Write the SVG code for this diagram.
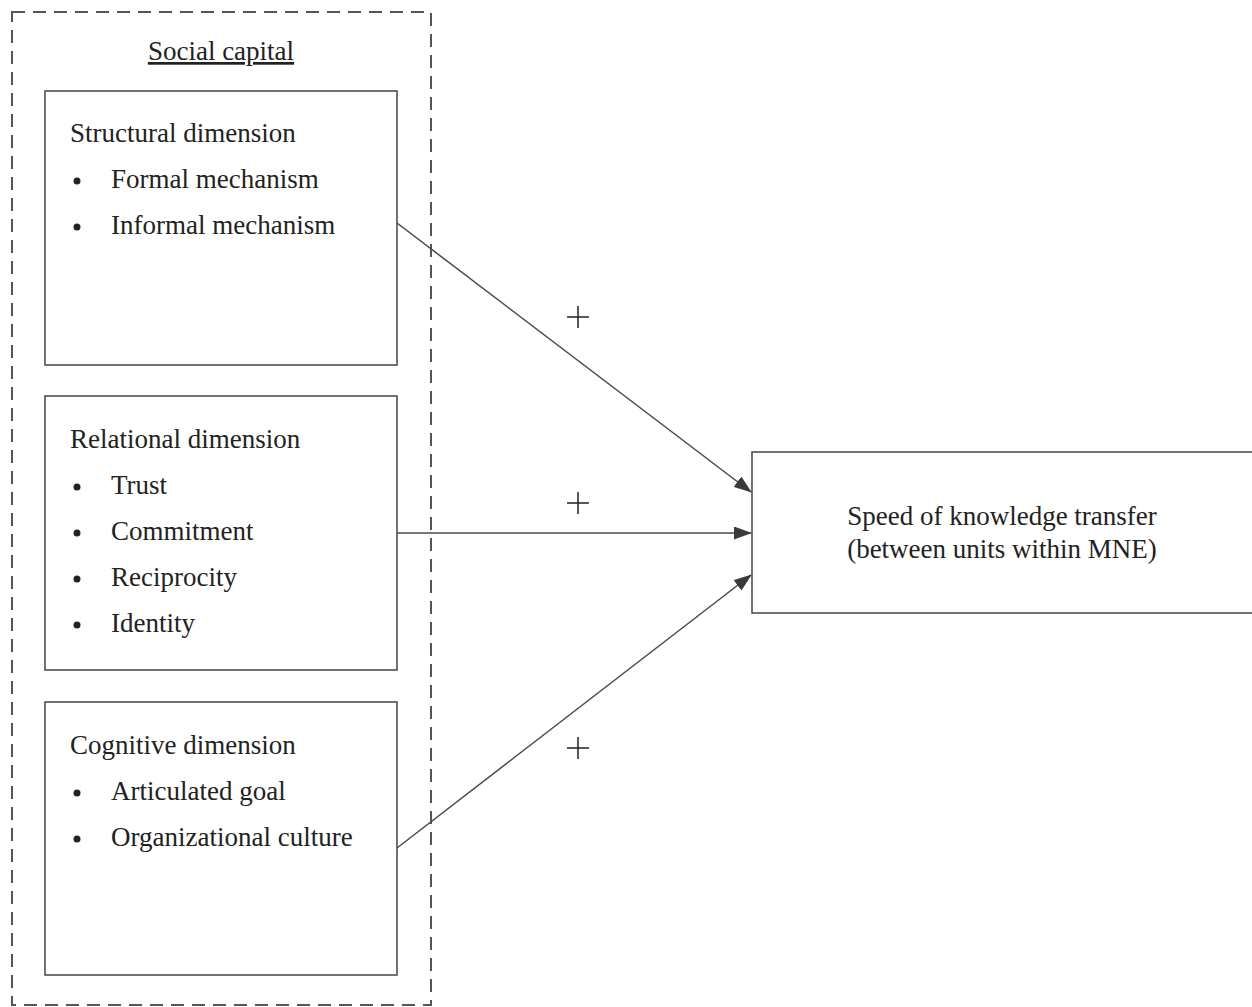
<svg xmlns="http://www.w3.org/2000/svg" width="1252" height="1007" viewBox="0 0 1252 1007">
<style>
text{font-family:"Liberation Serif","Times New Roman",serif;font-size:27px;fill:#222}
.box{fill:#fff;stroke:#444;stroke-width:1.5}
.conn{stroke:#4a4a4a;stroke-width:1.5;fill:none;marker-end:url(#ah)}
.plus{stroke:#222;stroke-width:1.5}
</style>
<defs>
<marker id="ah" markerWidth="18" markerHeight="13" refX="17" refY="6.5" orient="auto" markerUnits="userSpaceOnUse">
<path d="M0,0 L18,6.5 L0,13 Z" fill="#3a3a3a"/>
</marker>
</defs>
<rect width="1252" height="1007" fill="#fff"/>
<g id="social-capital">
<rect x="12" y="12" width="419" height="993" fill="none" stroke="#555" stroke-width="2" stroke-dasharray="13,8"/>
<text x="221" y="60" text-anchor="middle" text-decoration="underline">Social capital</text>
</g>
<g id="structural">
<rect class="box" x="45" y="91" width="352" height="274"/>
<text x="70" y="142">Structural dimension</text>
<circle cx="77" cy="181" r="3.5" fill="#222"/><text x="111" y="188">Formal mechanism</text>
<circle cx="77" cy="227" r="3.5" fill="#222"/><text x="111" y="234">Informal mechanism</text>
</g>
<g id="relational">
<rect class="box" x="45" y="396" width="352" height="274"/>
<text x="70" y="448">Relational dimension</text>
<circle cx="77" cy="487" r="3.5" fill="#222"/><text x="111" y="494">Trust</text>
<circle cx="77" cy="533" r="3.5" fill="#222"/><text x="111" y="540">Commitment</text>
<circle cx="77" cy="579" r="3.5" fill="#222"/><text x="111" y="586">Reciprocity</text>
<circle cx="77" cy="625" r="3.5" fill="#222"/><text x="111" y="632">Identity</text>
</g>
<g id="cognitive">
<rect class="box" x="45" y="702" width="352" height="273"/>
<text x="70" y="754">Cognitive dimension</text>
<circle cx="77" cy="793" r="3.5" fill="#222"/><text x="111" y="800">Articulated goal</text>
<circle cx="77" cy="839" r="3.5" fill="#222"/><text x="111" y="846">Organizational culture</text>
</g>
<g id="speed">
<rect class="box" x="752" y="452" width="510" height="161"/>
<text x="1002" y="525" text-anchor="middle">Speed of knowledge transfer</text>
<text x="1002" y="558" text-anchor="middle">(between units within MNE)</text>
</g>
<g id="connectors">
<line class="conn" x1="397" y1="223" x2="751" y2="492"/>
<line class="conn" x1="397" y1="533" x2="751" y2="533"/>
<line class="conn" x1="397" y1="848" x2="751" y2="575"/>
<path class="plus" d="M567,317 H589 M578,306 V328"/>
<path class="plus" d="M567,503 H589 M578,492 V514"/>
<path class="plus" d="M567,748 H589 M578,737 V759"/>
</g>
</svg>
